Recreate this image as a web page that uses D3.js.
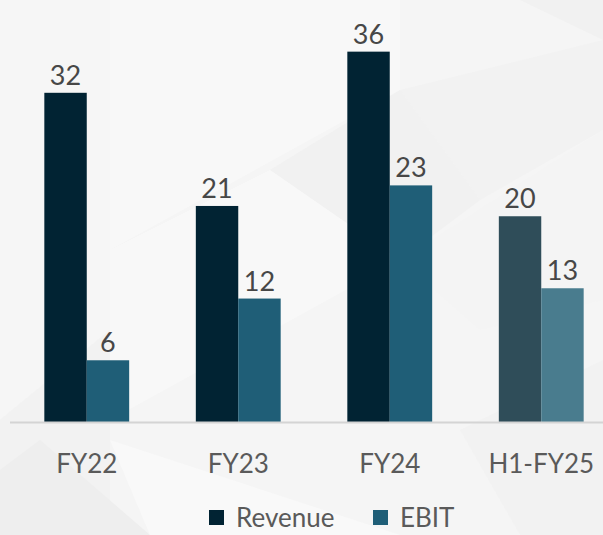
<!DOCTYPE html>
<html>
<head>
<meta charset="utf-8">
<script src="https://cdn.jsdelivr.net/npm/d3@7"></script>
<style>
  html, body { margin: 0; padding: 0; background: #f6f6f6; }
  svg { display: block; }
</style>
</head>
<body>
<div id="chart"></div>
<script>
// chart data
const categories = ['FY22', 'FY23', 'FY24', 'H1-FY25'];
const seriesNames = ['Revenue', 'EBIT'];
const revenue = [32, 21, 36, 20];
const ebit = [6, 12, 23, 13];

const width = 603;
const height = 535;

// last period is drawn faded
const colors = {
  Revenue: ['#012333', '#012333', '#012333', '#2f4d59'],
  EBIT: ['#1f5e77', '#1f5e77', '#1f5e77', '#497c8e'],
};

const svg = d3.select('#chart')
  .append('svg')
  .attr('width', width)
  .attr('height', height)
  .attr('viewBox', `0 0 ${width} ${height}`);

// faint geometric background
const bg = svg.append('g');
bg.append('rect').attr('width', width).attr('height', height).attr('fill', '#f5f5f5');
const shards = [
  { pts: [[0, 0], [110, 0], [110, 330], [0, 420]], fill: '#f6f6f6' },
  { pts: [[110, 0], [400, 0], [400, 90], [110, 250]], fill: '#f8f8f8' },
  { pts: [[400, 0], [603, 0], [603, 40], [520, 0]], fill: '#f1f1f1' },
  { pts: [[400, 90], [603, 40], [603, 130], [480, 200]], fill: '#f2f2f2' },
  { pts: [[270, 170], [400, 90], [480, 200], [400, 260]], fill: '#f1f1f1' },
  { pts: [[0, 420], [110, 330], [110, 535], [0, 535]], fill: '#f2f2f2' },
  { pts: [[110, 250], [270, 170], [400, 260], [110, 420]], fill: '#f8f8f8' },
  { pts: [[0, 470], [40, 440], [150, 535], [0, 535]], fill: '#eeeeee' },
  { pts: [[400, 260], [603, 130], [603, 300], [480, 330]], fill: '#f4f4f4' },
  { pts: [[150, 535], [110, 440], [400, 535]], fill: '#f9f9f9' },
  { pts: [[460, 430], [603, 360], [603, 535], [520, 535]], fill: '#f2f2f2' },
];
bg.selectAll('polygon')
  .data(shards)
  .join('polygon')
  .attr('points', (d) => d.pts.map((p) => p.join(',')).join(' '))
  .attr('fill', (d) => d.fill);

const baseline = 422;

const x = d3.scaleBand()
  .domain(categories)
  .range([11, 617])
  .paddingInner(0.44)
  .paddingOuter(0.22);

const xInner = d3.scaleBand()
  .domain(seriesNames)
  .range([0, x.bandwidth()]);

const y = d3.scaleLinear()
  .domain([0, 40])
  .range([baseline, 10.5]);

const rows = categories.map((c, i) => ({
  category: c,
  index: i,
  values: [
    { name: 'Revenue', value: revenue[i] },
    { name: 'EBIT', value: ebit[i] },
  ],
}));

const font = "Lato, 'Open Sans', sans-serif";

const groups = svg.append('g')
  .selectAll('g')
  .data(rows)
  .join('g')
  .attr('transform', (d) => `translate(${x(d.category)},0)`);

groups.selectAll('rect')
  .data((d) => d.values.map((v) => ({ ...v, index: d.index })))
  .join('rect')
  .attr('x', (d) => xInner(d.name))
  .attr('y', (d) => y(d.value))
  .attr('width', xInner.bandwidth())
  .attr('height', (d) => y(0) - y(d.value))
  .attr('fill', (d) => colors[d.name][d.index]);

// value labels
groups.selectAll('text')
  .data((d) => d.values)
  .join('text')
  .attr('x', (d) => xInner(d.name) + xInner.bandwidth() / 2)
  .attr('y', (d) => y(d.value) - 8)
  .attr('text-anchor', 'middle')
  .attr('font-family', font)
  .attr('font-size', '27px')
  .attr('fill', '#474747')
  .text((d) => d.value);

// x axis
const xAxis = svg.append('g')
  .attr('transform', `translate(0,${baseline})`)
  .call(d3.axisBottom(x).tickSize(0).tickPadding(33));
xAxis.select('.domain').attr('d', `M10,0.5H${width}`).attr('stroke', '#d4d4d4').attr('stroke-width', 2);
xAxis.selectAll('text')
  .attr('font-family', font)
  .attr('font-size', '26px')
  .attr('fill', '#5a5a5a');

// legend
const legend = svg.append('g').attr('transform', 'translate(209,510)');
const legendPos = [0, 164];
legend.selectAll('rect')
  .data(seriesNames)
  .join('rect')
  .attr('x', (d, i) => legendPos[i])
  .attr('y', 0)
  .attr('width', 15)
  .attr('height', 15)
  .attr('fill', (d) => colors[d][0]);
legend.selectAll('text')
  .data(seriesNames)
  .join('text')
  .attr('x', (d, i) => legendPos[i] + 27)
  .attr('y', 17)
  .attr('font-family', font)
  .attr('font-size', '26px')
  .attr('fill', '#5a5a5a')
  .text((d) => d);
</script>
</body>
</html>
